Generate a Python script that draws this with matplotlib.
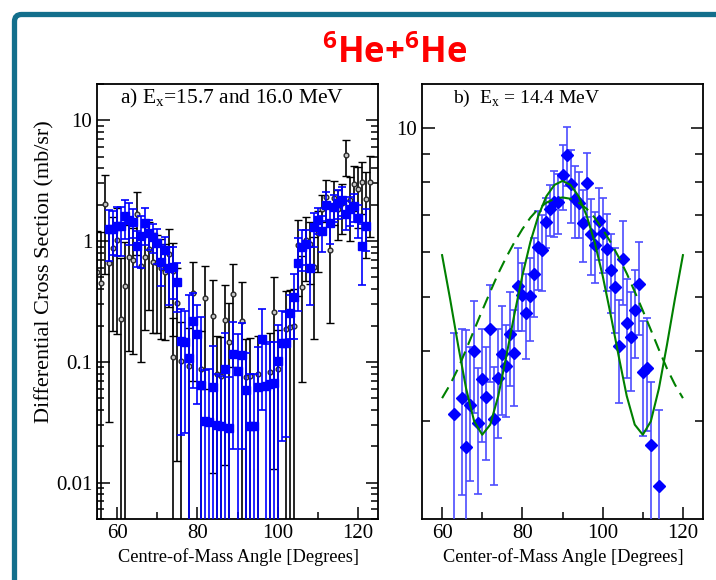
import matplotlib
matplotlib.use("Agg")
import matplotlib.pyplot as plt
from matplotlib.patches import FancyBboxPatch
from matplotlib.transforms import IdentityTransform
from matplotlib.ticker import FixedLocator, FixedFormatter, NullFormatter

plt.rcParams['font.family'] = ['Liberation Serif', 'DejaVu Serif']
plt.rcParams['mathtext.fontset'] = 'custom'
plt.rcParams['mathtext.rm'] = 'Liberation Serif'

# panel a, blue squares (Ex = 15.7 MeV)
blue_ang = list(range(58, 123))
blue_val = [1.25, 1.27, 1.33, 1.33, 1.62, 1.49, 1.45, 0.916, 1.10, 1.40,
            1.17, 1.09, 0.96, 0.675, 0.84, 0.594, 0.614, 0.461,
            0.150, 0.146, 0.107, 0.216, 0.170, 0.064, 0.0321, 0.0315, 0.062,
            0.0301, 0.0296, 0.087, 0.0286, 0.117, 0.084,
            0.115, 0.058, 0.0292, 0.0292, 0.0617, 0.156, 0.0637, 0.066, 0.067,
            0.101, 0.142, 0.142, 0.255, 0.346,
            0.662, 0.899, 0.94, 0.594, 1.31, 1.51, 1.21, 2.01, 1.40, 1.93,
            2.08, 2.21, 1.69, 1.83, 1.95, 1.54, 0.916, 1.33]
blue_err = [0.56, 0.5, 0.57, 0.58, 0.57, 0.56, 0.38, 0.3, 0.5, 0.47,
            0.32, 0.3, 0.31, 0.25, 0.25, 0.3, 0.28, 0.2,
            0.125, 0.12, 0.25, 0.155, 0.125, 0.17, 0.053, 0.055, 0.073,
            0.05, 0.047, 0.086, 0.047, 0.098, 0.085,
            0.096, 0.06, 0.05, 0.05, 0.07, 0.116, 0.076, 0.08, 0.08,
            0.1, 0.12, 0.118, 0.1, 0.19,
            0.4, 0.33, 0.3, 0.3, 0.41, 0.36, 0.39, 0.55, 0.45, 0.5,
            0.55, 0.6, 0.46, 0.5, 0.5, 0.47, 0.48, 0.5]

# panel a, black circles (Ex = 16.0 MeV)
black_ang = [55, 56, 57, 58, 59, 60, 61, 62, 63, 64, 65, 66, 67, 68, 69, 70,
             71, 72, 73, 74, 74, 75, 76, 78, 79, 81, 82, 84, 85, 86, 87, 88,
             89, 91, 92, 93, 95, 98, 99, 100, 102, 103, 104, 105, 106, 107,
             108, 109, 110, 111, 112, 113, 114, 115, 116, 117, 118, 119, 120,
             121, 122, 123]
black_val = [0.557, 0.45, 2.03, 0.662, 0.88, 1.02, 0.227, 0.424, 0.743, 0.697,
             1.67, 0.62, 0.743, 0.859, 0.675, 0.653, 0.594, 0.551, 0.776, 0.565,
             0.109, 0.305, 0.102, 0.092, 0.369, 0.0866, 0.34, 0.242, 0.079, 0.077,
             0.224, 0.146, 0.366, 0.217, 0.0747, 0.077, 0.079, 0.083, 0.258, 0.0877,
             0.188, 0.194, 0.198,
             0.92, 0.413, 1.02, 0.94, 0.614, 1.16, 1.83, 2.33, 0.84, 2.26, 1.83,
             2.05, 5.13, 2.21, 2.97, 2.68, 3.08, 2.23, 3.08]
black_err = [0.65, 0.75, 1.5, 0.63, 0.7, 0.85, 0.5, 0.55, 0.62, 0.58,
             0.9, 0.52, 0.56, 0.59, 0.5, 0.48, 0.44, 0.4, 0.49, 0.4,
             0.12, 0.29, 0.11, 0.1, 0.3, 0.095, 0.28, 0.23, 0.085, 0.085,
             0.21, 0.16, 0.275, 0.24, 0.08, 0.08, 0.085, 0.09, 0.245, 0.095,
             0.2, 0.2, 0.2,
             0.57, 0.345, 0.55, 0.5, 0.46, 0.6, 0.6, 0.9, 0.63, 0.9, 0.8,
             0.9, 1.7, 1.2, 1.2, 1.4, 1.4, 1.5, 2.0]

# panel b, blue diamonds (Ex = 14.4 MeV)
b_ang = [63, 65, 66, 67, 68, 69, 70, 71, 72, 73, 74, 75, 76, 77, 78, 79, 80,
         81, 82, 83, 84, 85, 86, 87, 88, 89, 90, 91, 92, 93, 94, 95, 96, 97,
         98, 99, 100, 101, 102, 103, 104, 105, 106, 107, 108, 109, 110, 111,
         112, 114]
b_val = [3.08, 3.29, 2.69, 3.20, 4.00, 2.97, 3.56, 3.31, 4.38, 3.02,
         3.58, 3.94, 3.75, 4.28, 3.96, 5.22, 5.03, 4.67, 5.01, 5.48,
         6.12, 6.06, 6.81, 7.16, 7.38, 7.38, 8.24, 8.97, 7.96, 7.47,
         7.36, 6.76, 7.98, 6.46, 6.18, 6.82, 6.50, 6.07, 5.57, 5.21,
         4.08, 5.83, 4.48, 4.24, 4.73, 5.26, 3.67, 3.72, 2.71, 2.29]
b_err = [1.22, 1.08, 1.66, 0.86, 0.91, 0.75, 0.81, 0.76, 0.87, 0.72,
         0.79, 0.87, 0.7, 0.82, 0.77, 0.88, 0.7, 0.81, 0.85, 0.88,
         0.98, 0.95, 0.7, 0.75, 1.0, 0.9, 1.1, 1.1, 1.2, 1.1,
         1.0, 1.0, 1.05, 1.0, 0.9, 1.0, 1.0, 0.95, 0.9, 0.9,
         0.85, 1.0, 0.9, 0.85, 0.85, 1.0, 0.85, 0.85, 0.8, 0.84]

# panel b, model curves
fit_ang = list(range(60, 121, 2))
fit_solid = [5.93, 4.95, 4.09, 3.42, 2.99, 2.83, 2.95, 3.32, 3.91, 4.64,
             5.45, 6.26, 6.98, 7.56, 7.92, 8.05, 7.92, 7.56, 6.98, 6.26,
             5.45, 4.64, 3.91, 3.32, 2.95, 2.83, 2.99, 3.42, 4.09, 4.95, 5.93]
fit_dash = [3.29, 3.48, 3.72, 4.02, 4.36, 4.72, 5.10, 5.50, 5.88, 6.25,
            6.60, 6.92, 7.18, 7.36, 7.48, 7.52, 7.48, 7.36, 7.18, 6.92,
            6.60, 6.25, 5.88, 5.50, 5.10, 4.72, 4.36, 4.02, 3.72, 3.48, 3.29]

W, H = 716, 580
fig = plt.figure(figsize=(W / 100, H / 100), dpi=100)

# teal slide frame, runs off the right and bottom edges
frame = FancyBboxPatch((14.5, -60), 800, H - 14.5 + 60,
                       boxstyle="round,pad=0,rounding_size=7",
                       transform=IdentityTransform(), fill=False,
                       edgecolor='#136f8c', linewidth=3.8)
fig.add_artist(frame)

fig.text(395 / W, 1 - 54 / H, r'$\mathregular{^6}$He+$\mathregular{^6}$He',
         color='red', fontsize=25, fontweight='bold', family='Open Sans',
         ha='center', va='center')

ax_a = fig.add_axes([97 / W, 61 / H, 281 / W, 435 / H])
ax_b = fig.add_axes([422 / W, 61 / H, 281 / W, 435 / H])

ax_a.set_yscale('log')
ax_a.errorbar(black_ang, black_val, yerr=black_err, fmt='o', ms=3.4,
              mfc='#c8c8c8', mec='#2a2a2a', mew=1.0, ecolor='black',
              elinewidth=1.2, capsize=2.8, capthick=1.2, zorder=2)
ax_a.errorbar(blue_ang, blue_val, yerr=blue_err, fmt='s', ms=5.2,
              color='blue', ecolor='blue', elinewidth=1.2, capsize=2.8,
              capthick=1.2, zorder=3)
ax_a.set_xlim(55, 125)
ax_a.set_ylim(0.005, 20)

ax_b.set_yscale('log')
ax_b.errorbar(b_ang, b_val, yerr=b_err, fmt='D', ms=6.3, color='blue',
              ecolor='#4d4dff', elinewidth=1.2, capsize=3, capthick=1.2,
              zorder=3)
ax_b.plot(fit_ang, fit_solid, color='green', lw=1.5, zorder=4)
ax_b.plot(fit_ang, fit_dash, color='green', lw=1.5, dashes=(6, 3.5), zorder=4)
ax_b.set_xlim(55, 125)
ax_b.set_ylim(2, 12)

for ax in (ax_a, ax_b):
    for s in ax.spines.values():
        s.set_linewidth(1.3)
    ax.xaxis.set_major_locator(FixedLocator([60, 80, 100, 120]))
    ax.xaxis.set_minor_locator(FixedLocator([70, 90, 110]))
    ax.tick_params(axis='both', which='both', direction='in', width=1.1,
                   labelsize=15)
    ax.tick_params(axis='y', which='both', right=True)
    ax.tick_params(axis='both', which='major', length=9)
    ax.tick_params(axis='both', which='minor', length=5)

ax_a.yaxis.set_major_locator(FixedLocator([0.01, 0.1, 1, 10]))
ax_a.yaxis.set_major_formatter(FixedFormatter(['0.01', '0.1', '1', '10']))
ax_a.yaxis.set_minor_locator(FixedLocator(
    [m * d for d in (0.001, 0.01, 0.1, 1, 10) for m in range(2, 10)]))
ax_a.yaxis.set_minor_formatter(NullFormatter())

ax_b.yaxis.set_major_locator(FixedLocator([10]))
ax_b.yaxis.set_major_formatter(FixedFormatter(['10']))
ax_b.yaxis.set_minor_locator(FixedLocator([3, 4, 5, 6, 7, 8, 9]))
ax_b.yaxis.set_minor_formatter(NullFormatter())
ax_b.tick_params(axis='y', which='minor', length=6)

fig.text(120 / W, 1 - 98 / H, r'a) E$_\mathregular{x}$=15.7 and 16.0 MeV',
         fontsize=15.5, ha='left', va='center')
fig.text(453 / W, 1 - 98 / H, r'b)  E$_\mathregular{x}$ = 14.4 MeV',
         fontsize=14, ha='left', va='center')
fig.text(45 / W, 1 - 272 / H, 'Differential Cross Section (mb/sr)',
         fontsize=16, rotation=90, ha='center', va='center')
fig.text(238 / W, 1 - 557 / H, 'Centre-of-Mass Angle [Degrees]',
         fontsize=13.2, ha='center', va='center')
fig.text(563 / W, 1 - 557 / H, 'Center-of-Mass Angle [Degrees]',
         fontsize=13.2, ha='center', va='center')

fig.savefig('out.png', dpi=100)
